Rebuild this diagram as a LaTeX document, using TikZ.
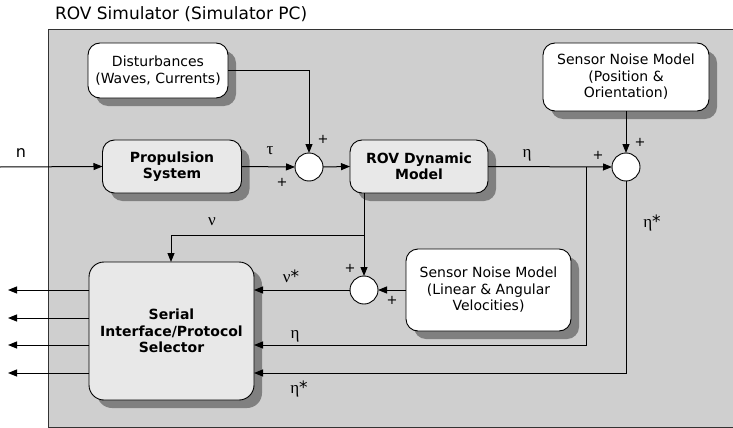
\documentclass[tikz,border=0pt]{standalone}
\usepackage{fontspec}
\setmainfont{DejaVu Sans}
\newfontfamily\grk{Liberation Serif}
\usetikzlibrary{arrows.meta,shadows}
\definecolor{bggray}{HTML}{CFCFCF}
\definecolor{boxlight}{HTML}{E8E8E8}
\definecolor{shadowgray}{HTML}{808080}
\begin{document}
\begin{tikzpicture}[x=1pt,y=-1pt,
  every node/.style={inner sep=0pt,outer sep=0pt},
  blockbox/.style={draw=black,line width=0.9pt,rounded corners=12pt,align=center,
    drop shadow={shadow xshift=8pt,shadow yshift=-8pt,fill=shadowgray,opacity=1},
    font=\fontsize{14}{16.5}\selectfont},
  whitebox/.style={blockbox,fill=white},
  lightbox/.style={blockbox,fill=boxlight,font=\bfseries\fontsize{14}{16.5}\selectfont},
  sumnode/.style={circle,draw=black,line width=0.9pt,fill=white,minimum size=28pt},
  conn/.style={line width=1pt,-{Triangle[length=9pt,width=7pt]}},
  sig/.style={font=\grk\fontsize{17}{17}\selectfont},
  star/.style={font=\rmfamily\fontsize{17}{17}\selectfont},
  plus/.style={font=\fontsize{13}{13}\selectfont}]
\useasboundingbox (0,0) rectangle (733,428);
\fill[white] (0,0) rectangle (733,428);
\filldraw[fill=bggray,draw=black!80,line width=0.9pt] (740,29) -- (48,29) -- (48,427) -- (740,427);
\node[anchor=west,font=\fontsize{17}{18}\selectfont] (title) at (55,14) {ROV Simulator (Simulator PC)};

\node[whitebox,minimum width=140pt,minimum height=55pt] (dist) at (158,70.5) {Disturbances\\(Waves, Currents)};
\node[lightbox,minimum width=139pt,minimum height=53pt] (prop) at (172,166.5) {Propulsion\\System};
\node[sumnode] (s1) at (309,167) {};
\node[lightbox,minimum width=138pt,minimum height=53pt] (rov) at (419,166.5) {ROV Dynamic\\Model};
\node[whitebox,minimum width=166pt,minimum height=68pt] (snp) at (626,77) {Sensor Noise Model\\(Position \&\\Orientation)};
\node[sumnode] (s2) at (626,167) {};
\node[sumnode] (s3) at (364,290) {};
\node[whitebox,minimum width=165pt,minimum height=82pt] (snl) at (488.5,290) {Sensor Noise Model\\(Linear \& Angular\\Velocities)};
\node[lightbox,minimum width=165pt,minimum height=138pt,rounded corners=15pt] (sel) at (171.5,331) {Serial\\Interface/Protocol\\Selector};

\coordinate (nin) at (0,167);
\coordinate (etab) at (586,167);
\coordinate (etac) at (586,345);
\coordinate (etasc) at (626,373);
\coordinate (rovb) at (364,193);
\coordinate (nub) at (364,235);
\coordinate (nuc) at (171,235);
\coordinate (o1) at (8,290);
\coordinate (o2) at (8,318);
\coordinate (o3) at (8,345);
\coordinate (o4) at (8,373);

\draw[conn] (nin) -- (prop.west);
\node (ln) at (21,153) {\fontsize{16}{16}\selectfont n};
\draw[conn] (prop.east) -- (s1.west);
\node[sig] (ltau) at (270,151) {τ};
\node[plus] (p1) at (282,182) {+};
\draw[conn] (dist.east) -| (s1.north);
\node[plus] (p2) at (323,139) {+};
\draw[conn] (s1.east) -- (rov.west);
\draw[conn] (rov.east) -- (s2.west);
\node[sig] (leta) at (527,155) {η};
\node[plus] (p3) at (598,155) {+};
\draw[conn] (snp.south) -- (s2.north);
\node[plus] (p4) at (640,142) {+};
\draw[conn] (etab) -- (etac) -- (sel.east |- etac);
\node[sig] (leta2) at (295,336) {η};
\draw[conn] (s2.south) -- (etasc) -- (sel.east |- etasc);
\node[sig] (letas) at (652,223) {η\textrm{*}};
\node[sig] (letas2) at (299,389) {η\textrm{*}};
\draw[conn] (rovb) -- (s3.north);
\draw[conn] (nub) -- (nuc) -- (sel.north -| nuc);
\node[sig] (lnu) at (212,222) {ν};
\node[plus] (p5) at (350,268) {+};
\draw[conn] (snl.west) -- (s3.east);
\node[plus] (p6) at (392,300) {+};
\draw[conn] (s3.west) -- (sel.east |- s3.west);
\node[sig] (lnus) at (291,276) {ν\textrm{*}};
\draw[conn] (sel.west |- o1) -- (o1);
\draw[conn] (sel.west |- o2) -- (o2);
\draw[conn] (sel.west |- o3) -- (o3);
\draw[conn] (sel.west |- o4) -- (o4);
\end{tikzpicture}
\end{document}
